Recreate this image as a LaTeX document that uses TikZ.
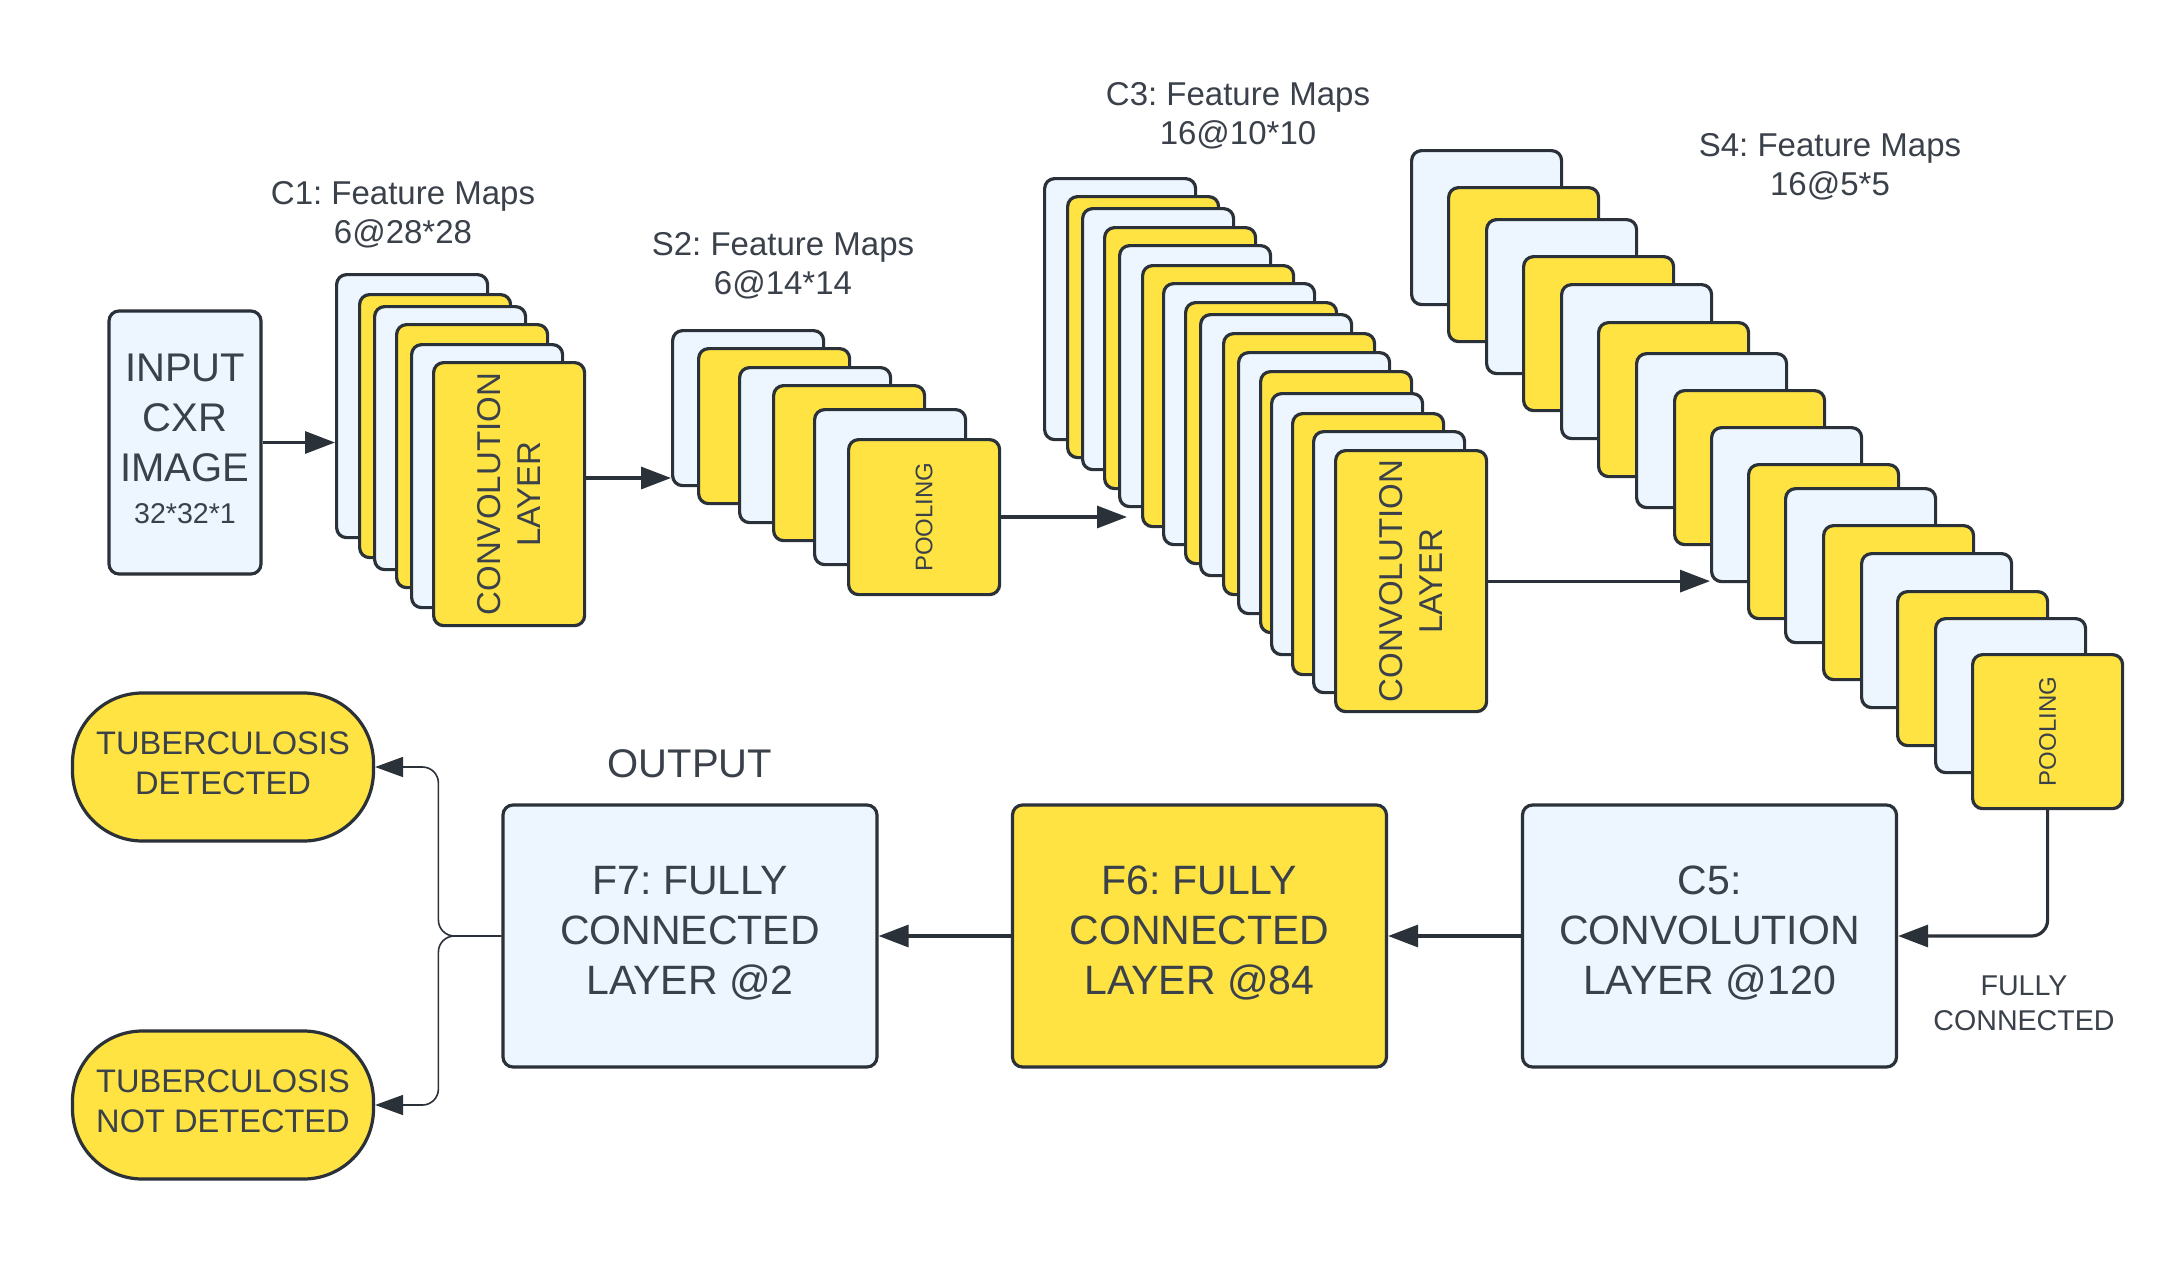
\documentclass[tikz,border=0pt]{standalone}
\usepackage{fontspec}
\setmainfont{Liberation Sans}
\usetikzlibrary{arrows.meta}
\frenchspacing
\definecolor{cb}{HTML}{EDF5FF}
\definecolor{cy}{HTML}{FFE342}
\definecolor{cline}{HTML}{2B3138}
\definecolor{ctext}{HTML}{3A414A}
\tikzset{
 card/.style={draw=cline, line width=1.6pt, rounded corners=5pt, anchor=north west, inner sep=0pt},
 c1card/.style={card, minimum width=75.5pt, minimum height=131.5pt},
 s2card/.style={card, minimum width=75.5pt, minimum height=77.5pt},
 c3card/.style={card, minimum width=75.5pt, minimum height=130.5pt},
 s4card/.style={card, minimum width=75pt, minimum height=77pt},
 arr/.style={draw=cline, line width=1.6pt, -{Triangle[length=15pt,width=11pt]}},
 thinarr/.style={draw=cline, line width=0.8pt, -{Triangle[length=14pt,width=10pt]}},
 lbl/.style={text=ctext, align=center, inner sep=0pt, font=\fontsize{16.5pt}{19.5pt}\selectfont},
 rlbl/.style={lbl, rotate=90, font=\fontsize{16.5pt}{20pt}\selectfont},
 plbl/.style={lbl, rotate=90, font=\fontsize{12pt}{14pt}\selectfont},
 bigbox/.style={draw=cline, line width=1.6pt, rounded corners=5pt, minimum width=187pt, minimum height=131pt, text=ctext, align=center, inner sep=0pt, font=\fontsize{20.5pt}{25pt}\selectfont},
 bigtxt/.style={text=ctext, align=center, inner sep=0pt, font=\fontsize{20.5pt}{25pt}\selectfont},
 term/.style={draw=cline, fill=cy, line width=1.6pt, rounded corners=35pt, minimum width=150.5pt, minimum height=74pt, inner sep=0pt},
 termtxt/.style={text=ctext, align=center, inner sep=0pt, font=\fontsize{16.3pt}{20pt}\selectfont},
}
\begin{document}
\begin{tikzpicture}[x=0.5pt,y=-0.5pt]
\useasboundingbox[fill=white] (0,0) rectangle (2173,1264);

% input
\node[draw=cline, fill=cb, line width=1.6pt, rounded corners=5pt, minimum width=76pt, minimum height=131.5pt, inner sep=0pt] (in) at (185,442.5) {};
\node[text=ctext, align=center, inner sep=0pt, font=\fontsize{20pt}{25pt}\selectfont] (int) at (185,439) {INPUT\\CXR\\IMAGE\\[-4pt]{\fontsize{14.3pt}{17pt}\selectfont 32*32*1}};

% C1
\foreach \x/\y/\c [count=\i] in {335/273/cb,358/293/cy,373/305/cb,395/323/cy,410/343/cb,432/361/cy}
 {\node[c1card, fill=\c] (c1-\i) at (\x,\y) {};}
\node[rlbl] (c1t) at (c1-6.center) {CONVOLUTION\\LAYER};
\node[lbl] (c1l) at (403,215) {C1: Feature Maps\\6@28*28};

% S2
\foreach \x/\y/\c [count=\i] in {671/329/cb,697/347/cy,738/366/cb,772/384/cy,813/408/cb,847/438/cy}
 {\node[s2card, fill=\c] (s2-\i) at (\x,\y) {};}
\node[plbl] (s2t) at (s2-6.center) {POOLING};
\node[lbl] (s2l) at (783,266) {S2: Feature Maps\\6@14*14};

% C3
\foreach \x/\y/\c [count=\i] in {1043/177/cb,1066/195/cy,1081/207/cb,1103/226/cy,1118/244/cb,1141/264/cy,1162/282/cb,1184/301/cy,1199/313/cb,1222/332/cy,1237/351/cb,1259/370/cy,1270/392/cb,1291/412/cy,1312/430/cb,1334/449/cy}
 {\node[c3card, fill=\c] (c3-\i) at (\x,\y) {};}
\node[rlbl] (c3t) at (c3-16.center) {CONVOLUTION\\LAYER};
\node[lbl] (c3l) at (1238,116) {C3: Feature Maps\\16@10*10};

% S4
\foreach \x/\y/\c [count=\i] in {1410/149/cb,1447/186/cy,1485/218/cb,1522/255/cy,1560/283/cb,1597/321/cy,1635/352/cb,1673/389/cy,1710/426/cb,1747/463/cy,1784/487/cb,1822/524/cy,1860/552/cb,1896/590/cy,1934/617/cb,1971/653/cy}
 {\node[s4card, fill=\c] (s4-\i) at (\x,\y) {};}
\node[plbl] (s4t) at (s4-16.center) {POOLING};
\node[lbl] (s4l) at (1830,167) {S4: Feature Maps\\16@5*5};

% bottom row
\node[bigbox, fill=cb] (c5) at (1709.5,936) {};
\node[bigtxt] (c5t) at ([yshift=1.5pt]c5.center) {C5:\\CONVOLUTION\\LAYER @120};
\node[bigbox, fill=cy] (f6) at (1199.5,936) {};
\node[bigtxt] (f6t) at ([yshift=1.5pt]f6.center) {F6: FULLY\\CONNECTED\\LAYER @84};
\node[bigbox, fill=cb] (f7) at (690,936) {};
\node[bigtxt] (f7t) at ([yshift=1.5pt]f7.center) {F7: FULLY\\CONNECTED\\LAYER @2};
\node[lbl, font=\fontsize{20pt}{24pt}\selectfont] (outl) at (690,764) {OUTPUT};
\node[lbl, font=\fontsize{14.3pt}{17.5pt}\selectfont] (fcl) at (2024,1003) {FULLY\\CONNECTED};

\node[term] (det) at (223,767) {};
\node[termtxt] (dett) at ([yshift=2pt]det.center) {TUBERCULOSIS\\DETECTED};
\node[term] (ndet) at (223,1105) {};
\node[termtxt] (ndett) at ([yshift=2pt]ndet.center) {TUBERCULOSIS\\NOT DETECTED};

% connectors
\coordinate (a1) at (0,478);
\coordinate (a2) at (1127,517);
\draw[arr] (in.east) -- (in.east -| c1-1.west);
\draw[arr] (c1-6.east |- a1) -- (s2-1.west |- a1);
\draw[arr] (s2-6.east |- a2) -- (a2);
\draw[arr] (c3-16.east) -- (c3-16.east -| s4-9.west);
\draw[arr, rounded corners=8pt] (s4-16.south) |- (c5.east);
\draw[arr] (c5.west) -- (f6.east);
\draw[arr] (f6.west) -- (f7.east);
\draw[thinarr, rounded corners=8pt] (f7.west) -- ++(-63,0) |- (det.east);
\draw[thinarr, rounded corners=8pt] (f7.west) -- ++(-63,0) |- (ndet.east);
\end{tikzpicture}
\end{document}
